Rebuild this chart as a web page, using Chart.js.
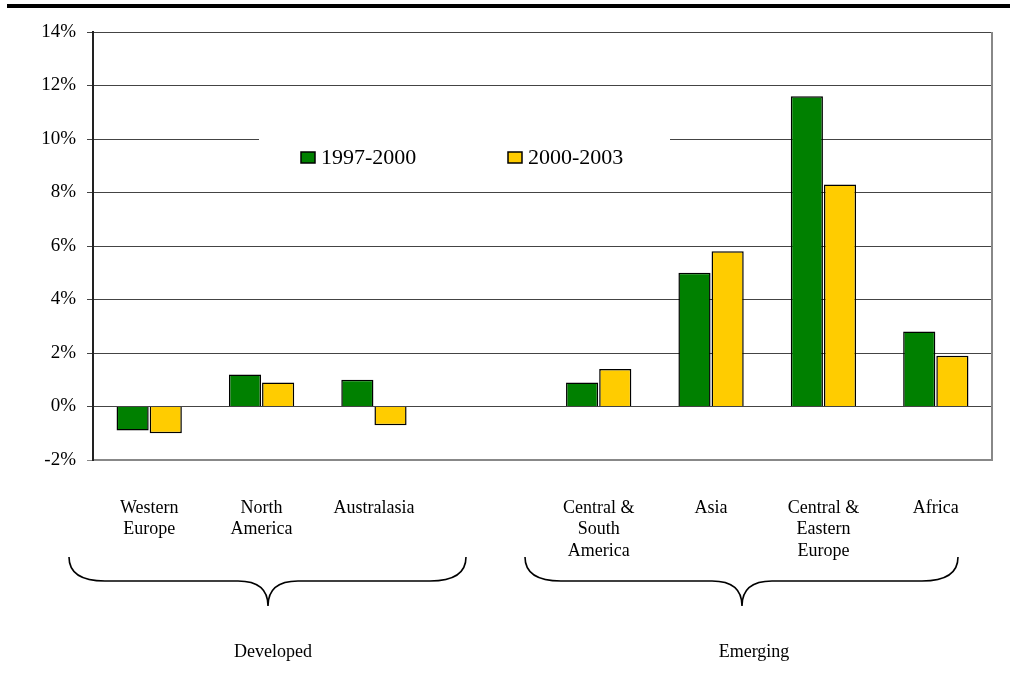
<!DOCTYPE html>
<html>
<head>
<meta charset="utf-8">
<script src="https://cdn.jsdelivr.net/npm/chart.js@4/dist/chart.umd.min.js"></script>
<style>
  body { margin: 0; background: #fff; }
  #wrap { width: 1015px; height: 673px; }
</style>
</head>
<body>
<div id="wrap"><canvas id="growthChart" width="1015" height="673"></canvas></div>
<script>
const regions = [
    ["Western", "Europe"],
    ["North", "America"],
    "Australasia",
    "",
    ["Central &", "South", "America"],
    "Asia",
    ["Central &", "Eastern", "Europe"],
    "Africa",
];
const growth9700 = [-0.9, 1.2, 1.0, null, 0.9, 5.0, 11.6, 2.8];
const growth0003 = [-1.0, 0.9, -0.7, null, 1.4, 5.8, 8.3, 1.9];
const yTicks = [-2, 0, 2, 4, 6, 8, 10, 12, 14];
const groupNames = ["Developed", "Emerging"];

const serif = "'Liberation Serif', 'Times New Roman', serif";

// legend, braces, frame
const decor = {
    id: "decor",
    afterDraw(chart) {
        const ctx = chart.ctx;
        const area = chart.chartArea;
        ctx.save();

        // thick rule at the top
        ctx.fillStyle = "#000";
        ctx.fillRect(7, 4, 1003, 4);

        // right edge of the plot
        ctx.strokeStyle = "#888";
        ctx.lineWidth = 2;
        ctx.beginPath();
        ctx.moveTo(area.right, area.top);
        ctx.lineTo(area.right, area.bottom + 1);
        ctx.stroke();

        // legend inside the plot
        ctx.fillStyle = "#fff";
        ctx.fillRect(259, 128, 411, 56);
        const itemX = [301, 508];
        ctx.font = "22px " + serif;
        ctx.textBaseline = "middle";
        ctx.textAlign = "left";
        chart.data.datasets.forEach((ds, i) => {
            ctx.fillStyle = ds.backgroundColor;
            ctx.fillRect(itemX[i], 152, 14, 11);
            ctx.strokeStyle = "#000";
            ctx.lineWidth = 1.5;
            ctx.strokeRect(itemX[i], 152, 14, 11);
            ctx.fillStyle = "#000";
            ctx.fillText(ds.label, itemX[i] + 20, 158);
        });

        // braces under the category labels
        const braces = [
            { x1: 69, x2: 466, xm: 268, tx: 273 },
            { x1: 525, x2: 958, xm: 742, tx: 754 },
        ];
        const y0 = 557, y1 = 581, y2 = 606;
        ctx.strokeStyle = "#000";
        ctx.lineWidth = 1.6;
        braces.forEach((b, i) => {
            ctx.beginPath();
            ctx.moveTo(b.x1, y0);
            ctx.quadraticCurveTo(b.x1, y1, b.x1 + 36, y1);
            ctx.lineTo(b.xm - 30, y1);
            ctx.quadraticCurveTo(b.xm, y1, b.xm, y2);
            ctx.quadraticCurveTo(b.xm, y1, b.xm + 30, y1);
            ctx.lineTo(b.x2 - 36, y1);
            ctx.quadraticCurveTo(b.x2, y1, b.x2, y0);
            ctx.stroke();

            ctx.fillStyle = "#000";
            ctx.font = "18px " + serif;
            ctx.textAlign = "center";
            ctx.textBaseline = "alphabetic";
            ctx.fillText(groupNames[i], b.tx, 657);
        });
        ctx.restore();
    },
};

new Chart(document.getElementById("growthChart"), {
    type: "bar",
    data: {
        labels: regions,
        datasets: [
            {
                label: "1997-2000",
                data: growth9700,
                backgroundColor: "#008000",
                borderColor: "#000",
                borderWidth: 1.5,
            },
            {
                label: "2000-2003",
                data: growth0003,
                backgroundColor: "#FFCC00",
                borderColor: "#000",
                borderWidth: 1.5,
            },
        ],
    },
    options: {
        responsive: false,
        animation: false,
        categoryPercentage: 0.59,
        barPercentage: 0.97,
        layout: {
            padding: { top: 32, right: 23, left: 0, bottom: 0 },
        },
        scales: {
            x: {
                grid: { display: false, drawTicks: false },
                border: { color: "#888", width: 2 },
                ticks: {
                    color: "#000",
                    padding: 37,
                    maxRotation: 0,
                    autoSkip: false,
                    font: { family: serif, size: 18, lineHeight: 1.2 },
                },
                afterFit(scale) {
                    scale.height = 213;
                },
            },
            y: {
                min: yTicks[0],
                max: yTicks[yTicks.length - 1],
                afterBuildTicks(scale) {
                    scale.ticks = yTicks.map((v) => ({ value: v }));
                },
                grid: {
                    color: (c) => (c.tick && c.tick.value === yTicks[0] ? "#888" : "#444"),
                    lineWidth: 1,
                    tickLength: 6,
                },
                border: { color: "#222", width: 2 },
                ticks: {
                    color: "#000",
                    padding: 11,
                    font: { family: serif, size: 19 },
                    callback: (v) => v + "%",
                },
                afterFit(scale) {
                    scale.width = 93;
                },
            },
        },
        plugins: {
            legend: { display: false },
            tooltip: { enabled: false },
        },
    },
    plugins: [decor],
});
</script>
</body>
</html>
